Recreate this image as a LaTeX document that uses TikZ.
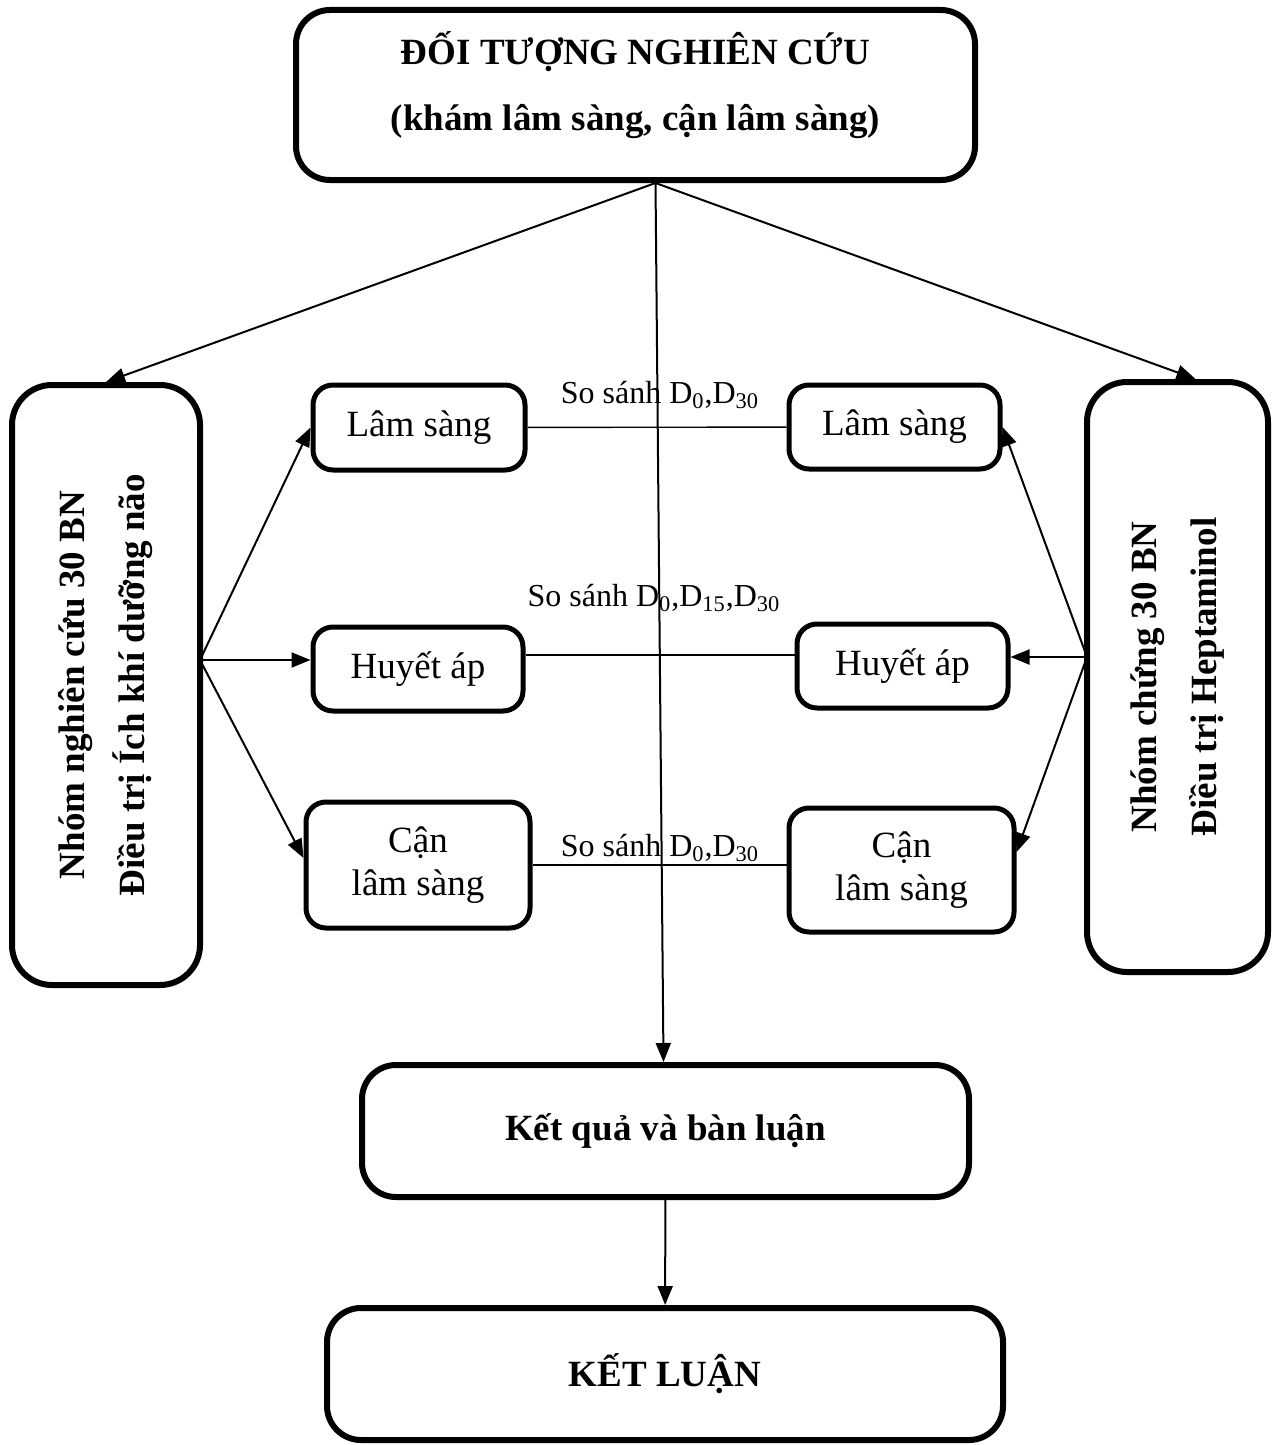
\documentclass[tikz,border=0pt]{standalone}
\usepackage{fontspec}
\setmainfont{Liberation Serif}
\usetikzlibrary{positioning}
\usetikzlibrary{arrows.meta,calc}

\begin{document}
\begin{tikzpicture}[x=0.5pt,y=-0.5pt,->,>={Triangle[length=9.5pt,width=7.5pt]},line width=1pt,
    big node/.style={draw,rounded corners=17pt,line width=3pt,inner sep=0pt,align=center,
      font=\fontsize{18.5}{33}\selectfont\bfseries},
    tall node/.style={big node,rotate=90,rounded corners=20pt,font=\fontsize{18.5}{30}\selectfont\bfseries},
    small node/.style={draw,rounded corners=10pt,line width=2.5pt,inner sep=0pt,align=center,
      font=\fontsize{18.5}{21.5}\selectfont},
    cmp label/.style={font=\fontsize{16}{18}\selectfont,inner sep=0pt}]

  \useasboundingbox (0,0) rectangle (1281,1445);

  \node[big node,minimum width=339.5pt,minimum height=85pt,text depth=14pt] (dt) at (635.5,95)
    {ĐỐI TƯỢNG NGHIÊN CỨU\\(khám lâm sàng, cận lâm sàng)};
  \node[tall node,minimum width=300pt,minimum height=94pt] (ng) at (106,685)
    {Nhóm nghiên cứu 30 BN\\Điều trị Ích khí dưỡng não};
  \node[tall node,minimum width=295pt,minimum height=90.5pt] (ch) at (1177.5,677)
    {Nhóm chứng 30 BN\\Điều trị Heptaminol};

  \node[small node,minimum width=106pt,minimum height=42.5pt] (ls1) at (419,427.5) {Lâm sàng};
  \node[small node,minimum width=105pt,minimum height=42pt] (ha1) at (418,669) {Huyết áp};
  \node[small node,minimum width=112pt,minimum height=63pt] (cls1) at (418,865) {Cận\\lâm sàng};
  \node[small node,minimum width=105.5pt,minimum height=42pt] (ls2) at (894.5,427) {Lâm sàng};
  \node[small node,minimum width=105.5pt,minimum height=42pt] (ha2) at (902.5,666) {Huyết áp};
  \node[small node,minimum width=112.5pt,minimum height=62pt] (cls2) at (901.5,870) {Cận\\lâm sàng};

  \node[big node,minimum width=303.5pt,minimum height=66pt] (kq) at (665.5,1131) {Kết quả và bàn luận};
  \node[big node,minimum width=338pt,minimum height=66pt] (kl) at (665,1374) {KẾT LUẬN};

  \node[cmp label] (so1) at (660,395) {So sánh D\textsubscript{0},D\textsubscript{30}};
  \node[cmp label] (so2) at (654,598) {So sánh D\textsubscript{0},D\textsubscript{15},D\textsubscript{30}};
  \node[cmp label] (so3) at (660,848) {So sánh D\textsubscript{0},D\textsubscript{30}};

  \coordinate (split) at ($(dt.south)+(20,0)$);
  \coordinate (lfork) at (200,660);
  \coordinate (rfork) at (1087,657);

  \path
    (split) edge (ng.east)
            edge ($(ch.east)+(18,0)$)
            edge ($(kq.north)+(-2,0)$)
    (lfork) edge (ls1.west)
            edge (ha1.west |- lfork)
            edge ($(cls1.west)+(0,-7)$)
    (rfork) edge (ls2.east)
            edge (ha2.east |- rfork)
            edge ($(cls2.east)+(0,-18)$)
    (kq)    edge (kl);

  \path[-,line width=0.7pt]
    (ls1) edge (ls2)
    ($(ha1.east)+(0,-14)$) edge ($(ha2.west)+(0,-11)$)
    (cls1.east) edge (cls1.east -| cls2.west);
\end{tikzpicture}
\end{document}
